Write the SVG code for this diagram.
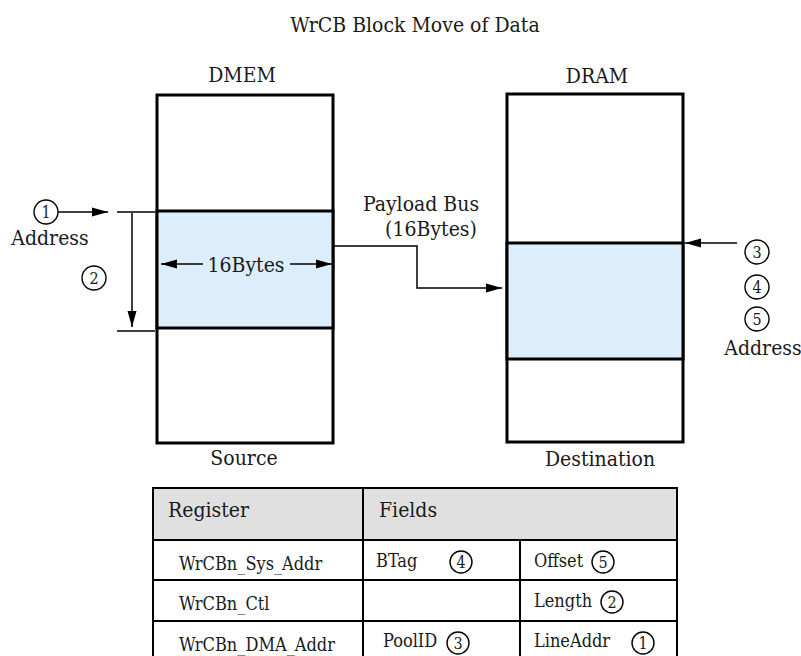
<svg xmlns="http://www.w3.org/2000/svg" width="801" height="656" viewBox="0 0 801 656">
  <style>
    text { font-family: "DejaVu Serif Condensed", "DejaVu Serif", serif; fill: #1a1a1a; }
    .lbl { font-size: 21px; }
    .cell { font-size: 18px; }
    .num { font-size: 16px; text-anchor: middle; }
    .mid { text-anchor: middle; }
    .mem { fill: #ffffff; stroke: #000; stroke-width: 3; }
    .band { fill: #dcedfb; stroke: #000; stroke-width: 3; }
    .ln { fill: none; stroke: #000; stroke-width: 1.5; }
    .circ { fill: #ffffff; stroke: #000; stroke-width: 1.4; }
    .grid { fill: none; stroke: #000; stroke-width: 2; }
  </style>
  <defs>
    <marker id="ah" viewBox="0 0 16 10" refX="16" refY="5" markerWidth="16" markerHeight="10" markerUnits="userSpaceOnUse" orient="auto-start-reverse">
      <path d="M0,0.5 L16,5 L0,9.5 Z" fill="#000"/>
    </marker>
  </defs>

  <text class="lbl mid" x="415" y="32">WrCB Block Move of Data</text>

  <!-- source memory -->
  <g id="dmem">
    <text class="lbl mid" x="242" y="82">DMEM</text>
    <rect class="mem" x="157" y="95" width="176" height="348"/>
    <rect class="band" x="157" y="211" width="176" height="117"/>
    <text class="lbl mid" x="244" y="465">Source</text>
  </g>

  <!-- destination memory -->
  <g id="dram">
    <text class="lbl mid" x="597" y="83">DRAM</text>
    <rect class="mem" x="507" y="94" width="176" height="348"/>
    <rect class="band" x="507" y="243" width="176" height="116"/>
    <text class="lbl mid" x="600" y="466">Destination</text>
  </g>

  <!-- address markers -->
  <g id="src-addr">
    <circle class="circ" cx="46" cy="212" r="12"/>
    <text class="num" x="46" y="218">1</text>
    <text class="lbl mid" x="50" y="245">Address</text>
    <circle class="circ" cx="94" cy="278" r="12"/>
    <text class="num" x="94" y="284">2</text>
  </g>
  <g id="dst-addr">
    <circle class="circ" cx="757" cy="252" r="12"/>
    <text class="num" x="757" y="258">3</text>
    <circle class="circ" cx="757" cy="287" r="12"/>
    <text class="num" x="757" y="293">4</text>
    <circle class="circ" cx="757" cy="319" r="12"/>
    <text class="num" x="757" y="325">5</text>
    <text class="lbl mid" x="763" y="355">Address</text>
  </g>
  <g id="bus-label">
    <text class="lbl mid" x="421" y="211">Payload Bus</text>
    <text class="lbl mid" x="431" y="236">(16Bytes)</text>
  </g>
  <g id="width-label">
    <text class="lbl mid" x="246" y="272">16Bytes</text>
  </g>

  <!-- connectors -->
  <g id="connectors">
    <line class="ln" x1="58" y1="212" x2="108" y2="212" marker-end="url(#ah)"/>
    <line class="ln" x1="117" y1="212" x2="155" y2="212"/>
    <line class="ln" x1="117" y1="331" x2="155" y2="331"/>
    <line class="ln" x1="132" y1="213" x2="132" y2="327" marker-end="url(#ah)"/>
    <line class="ln" x1="203" y1="264" x2="161" y2="264" marker-end="url(#ah)"/>
    <line class="ln" x1="290" y1="264" x2="332" y2="264" marker-end="url(#ah)"/>
    <polyline class="ln" points="334,246 417,246 417,288 502,288" marker-end="url(#ah)"/>
    <line class="ln" x1="737" y1="243" x2="685" y2="243" marker-end="url(#ah)"/>
  </g>

  <!-- register table -->
  <g id="reg-table">
    <rect x="153" y="488" width="524" height="52" fill="#e0e0e0"/>
    <rect class="grid" x="153" y="488" width="524" height="190"/>
    <line class="grid" x1="153" y1="540" x2="677" y2="540"/>
    <line class="grid" x1="153" y1="580" x2="677" y2="580"/>
    <line class="grid" x1="153" y1="621" x2="677" y2="621"/>
    <line class="grid" x1="363" y1="488" x2="363" y2="656"/>
    <line class="grid" x1="520" y1="540" x2="520" y2="656"/>
    <text class="lbl" x="168" y="517">Register</text>
    <text class="lbl" x="379" y="517">Fields</text>
    <text class="cell" x="179" y="570">WrCBn_Sys_Addr</text>
    <text class="cell" x="376" y="567">BTag</text>
    <circle class="circ" cx="461" cy="562" r="11"/><text class="num" x="461" y="568">4</text>
    <text class="cell" x="534" y="567">Offset</text>
    <circle class="circ" cx="603" cy="562" r="11"/><text class="num" x="603" y="568">5</text>
    <text class="cell" x="179" y="610">WrCBn_Ctl</text>
    <text class="cell" x="534" y="607">Length</text>
    <circle class="circ" cx="612" cy="602" r="11"/><text class="num" x="612" y="608">2</text>
    <text class="cell" x="179" y="651">WrCBn_DMA_Addr</text>
    <text class="cell" x="383" y="647">PoolID</text>
    <circle class="circ" cx="458" cy="643" r="11"/><text class="num" x="458" y="649">3</text>
    <text class="cell" x="534" y="647">LineAddr</text>
    <circle class="circ" cx="643" cy="643" r="11"/><text class="num" x="643" y="649">1</text>
  </g>
</svg>
